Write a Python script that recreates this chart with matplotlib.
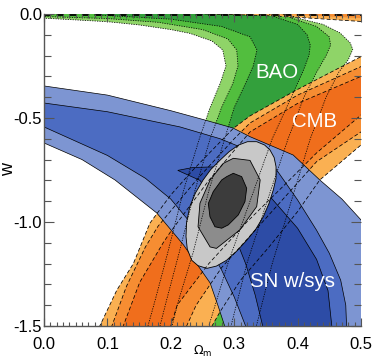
import matplotlib
matplotlib.use("Agg")
import matplotlib.pyplot as plt
from matplotlib.ticker import MultipleLocator, FormatStrFormatter

plt.rcParams['font.family'] = ['Liberation Sans', 'DejaVu Sans']
plt.rcParams['axes.unicode_minus'] = False

# === confidence regions in the (Omega_m, w) plane, as (Om, w) vertices ===
# levels go outer (99.7%) -> middle (95.4%) -> inner (68.3%)

# BAO
BAO_OUTER = [(-0.02, 0.03), (-0.02, -0.018), (0.0, -0.02), (0.10, -0.037), (0.151, -0.053),
             (0.20, -0.075), (0.23, -0.093), (0.265, -0.13), (0.282, -0.173), (0.287, -0.25),
             (0.278, -0.333), (0.262, -0.45), (0.245, -0.6), (0.22, -0.85), (0.195, -1.15),
             (0.175, -1.38), (0.164, -1.5), (0.158, -1.56),
             (0.325, -1.56), (0.335, -1.5), (0.36, -1.2), (0.39, -0.9), (0.42, -0.6),
             (0.445, -0.4), (0.465, -0.28), (0.48, -0.22), (0.487, -0.17), (0.483, -0.139),
             (0.467, -0.091), (0.44, -0.05), (0.40, -0.02), (0.36, 0.03)]
BAO_MID = [(-0.02, 0.03), (-0.02, -0.01), (0.0, -0.012), (0.10, -0.022), (0.18, -0.04),
           (0.25, -0.075), (0.29, -0.12), (0.304, -0.173), (0.306, -0.25), (0.298, -0.333),
           (0.28, -0.45), (0.262, -0.6), (0.238, -0.85), (0.213, -1.15), (0.193, -1.38),
           (0.183, -1.5), (0.178, -1.56),
           (0.292, -1.56), (0.295, -1.5), (0.32, -1.2), (0.352, -0.9), (0.385, -0.6),
           (0.41, -0.4), (0.43, -0.28), (0.445, -0.2), (0.452, -0.15), (0.45, -0.11),
           (0.43, -0.06), (0.40, -0.03), (0.35, 0.03)]
BAO_INNER = [(0.08, 0.03), (0.08, -0.004), (0.20, -0.025), (0.28, -0.06), (0.325, -0.11),
             (0.336, -0.173), (0.33, -0.25), (0.318, -0.333), (0.30, -0.45), (0.285, -0.6),
             (0.26, -0.85), (0.235, -1.15), (0.212, -1.38), (0.202, -1.5), (0.198, -1.56),
             (0.257, -1.56), (0.26, -1.5), (0.29, -1.2), (0.325, -0.9), (0.36, -0.6),
             (0.39, -0.4), (0.408, -0.28), (0.418, -0.2), (0.42, -0.15), (0.415, -0.1),
             (0.40, -0.05), (0.37, -0.02), (0.33, 0.03)]

# CMB band edges, upper-left side and lower-right side
CMB_L3 = [(0.079, -1.56), (0.088, -1.5), (0.115, -1.327), (0.141, -1.2), (0.167, -1.006),
          (0.20, -0.87), (0.235, -0.75), (0.2986, -0.55), (0.325, -0.49), (0.3986, -0.365),
          (0.5, -0.205), (0.56, -0.12)]
CMB_L2 = [(0.098, -1.56), (0.107, -1.5), (0.13, -1.31), (0.16, -1.12), (0.18, -1.02),
          (0.24, -0.80), (0.30, -0.60), (0.325, -0.524), (0.40, -0.39), (0.5, -0.253),
          (0.56, -0.18)]
CMB_L1 = [(0.116, -1.56), (0.125, -1.5), (0.151, -1.29), (0.188, -1.1), (0.199, -1.05),
          (0.26, -0.80), (0.325, -0.567), (0.40, -0.43), (0.5, -0.30), (0.56, -0.23)]
CMB_R1 = [(0.195, -1.56), (0.20, -1.5), (0.21, -1.4), (0.26, -1.2), (0.32, -1.0),
          (0.38, -0.82), (0.43, -0.668), (0.5, -0.486), (0.56, -0.36)]
CMB_R2 = [(0.222, -1.56), (0.225, -1.5), (0.24, -1.4), (0.28, -1.22), (0.33, -1.05),
          (0.38, -0.88), (0.43, -0.71), (0.5, -0.567), (0.56, -0.45)]
CMB_R3 = [(0.26, -1.56), (0.265, -1.5), (0.278, -1.43), (0.31, -1.28), (0.355, -1.12),
          (0.40, -0.95), (0.435, -0.798), (0.5, -0.63), (0.56, -0.52)]
# second CMB branch hugging w = 0
CMB_TOP_OUTER = [(0.25, 0.03), (0.56, 0.03), (0.56, -0.042), (0.5, -0.036), (0.45, -0.026),
                 (0.40, -0.016), (0.35, -0.008), (0.30, -0.003), (0.25, 0.0)]
CMB_TOP_MID = [(0.38, 0.03), (0.56, 0.03), (0.56, -0.025), (0.5, -0.02), (0.45, -0.012),
               (0.40, -0.004), (0.38, 0.0)]
TOP_EDGE = [(0.0, -0.004), (0.5, -0.004)]

# SN w/sys band edges (upper and lower)
SN_UP3 = [(-0.02, -0.338), (0.0, -0.346), (0.1, -0.39), (0.2, -0.465), (0.254, -0.51),
          (0.298, -0.548), (0.325, -0.59), (0.393, -0.678), (0.435, -0.798), (0.47, -0.89),
          (0.5, -0.99), (0.515, -1.1), (0.52, -1.3), (0.52, -1.56)]
SN_LO3 = [(-0.02, -0.6), (0.0, -0.62), (0.06, -0.70), (0.112, -0.798), (0.178, -0.957),
          (0.22, -1.11), (0.262, -1.293), (0.275, -1.407), (0.285, -1.5), (0.29, -1.56)]
SN_UP2 = [(-0.02, -0.42), (0.0, -0.428), (0.1, -0.47), (0.2145, -0.543), (0.278, -0.60),
          (0.33, -0.665), (0.367, -0.75), (0.40, -0.894), (0.43, -1.04), (0.45, -1.15),
          (0.468, -1.28), (0.476, -1.4), (0.478, -1.56)]
SN_LO2 = [(-0.02, -0.52), (0.0, -0.543), (0.1, -0.68), (0.16, -0.79), (0.20, -0.89),
          (0.23, -1.0), (0.26, -1.12), (0.28, -1.23), (0.30, -1.36), (0.318, -1.5),
          (0.32, -1.56)]
SN_UP1 = [(0.211, -0.752), (0.235, -0.738), (0.27, -0.735), (0.32, -0.77), (0.36, -0.89),
          (0.40, -1.03), (0.43, -1.18), (0.448, -1.33), (0.454, -1.5), (0.455, -1.56)]
SN_LO1 = [(0.211, -0.752), (0.246, -0.80), (0.28, -0.95), (0.305, -1.1), (0.318, -1.2),
          (0.333, -1.35), (0.345, -1.5), (0.347, -1.56)]

# combined BAO + CMB + SN
COMB_OUTER = [(0.3355, -0.614), (0.348, -0.630), (0.3565, -0.654), (0.363, -0.69), (0.366, -0.734),
              (0.366, -0.79), (0.3617, -0.846), (0.355, -0.91), (0.346, -0.974), (0.334, -1.035),
              (0.32, -1.087), (0.304, -1.14), (0.288, -1.184), (0.272, -1.212), (0.257, -1.223),
              (0.243, -1.21), (0.233, -1.184), (0.226, -1.13), (0.224, -1.07), (0.225, -1.0),
              (0.230, -0.926), (0.239, -0.86), (0.251, -0.798), (0.263, -0.748), (0.278, -0.702),
              (0.292, -0.662), (0.307, -0.63), (0.321, -0.614)]
COMB_MID = [(0.2986, -0.694), (0.325, -0.704), (0.341, -0.798), (0.3355, -0.926), (0.309, -1.038),
            (0.272, -1.127), (0.262, -1.12), (0.243, -1.023), (0.246, -0.91), (0.262, -0.798),
            (0.283, -0.718)]
COMB_INNER = [(0.2986, -0.766), (0.3118, -0.782), (0.3197, -0.838), (0.317, -0.902), (0.3065, -0.966),
              (0.2907, -1.014), (0.2803, -1.03), (0.2697, -1.023), (0.2618, -0.975), (0.2592, -0.911),
              (0.267, -0.854), (0.2803, -0.798), (0.2882, -0.782)]

GREEN = ['#8fd468', '#52be3e', '#33a03c']
ORANGE = ['#fab052', '#f68d32', '#f06e1c']
BLUE = ['#7d95d2', '#4c6cc2', '#2d4ca6']
GREY = ['#c8c8c8', '#8c8c8c', '#3c3c3c']

LABELS = [('BAO', 0.368, -0.309), ('CMB', 0.4267, -0.542), ('SN w/sys', 0.392, -1.314)]


def band(edge_a, edge_b):
    # closed polygon from two edges of a band
    return edge_a + edge_b[::-1]


def xy(pts):
    return [p[0] for p in pts], [p[1] for p in pts]


fig = plt.figure(figsize=(3.74, 3.61), dpi=100)
ax = fig.add_axes([0.1176, 0.0970, 0.8476, 0.8643])

bao = [BAO_OUTER, BAO_MID, BAO_INNER]
cmb = [band(CMB_L3, CMB_R3), band(CMB_L2, CMB_R2), band(CMB_L1, CMB_R1)]
sn = [band(SN_UP3, SN_LO3), band(SN_UP2, SN_LO2), band(SN_UP1, SN_LO1)]
comb = [COMB_OUTER, COMB_MID, COMB_INNER]

for poly, c in zip(bao, GREEN):
    ax.fill(*xy(poly), color=c, lw=0, zorder=1)
for poly, c in zip(cmb, ORANGE):
    ax.fill(*xy(poly), color=c, lw=0, zorder=2)
ax.fill(*xy(CMB_TOP_OUTER), color=ORANGE[0], lw=0, zorder=2)
ax.fill(*xy(CMB_TOP_MID), color=ORANGE[1], lw=0, zorder=2)
for poly, c in zip(sn, BLUE):
    ax.fill(*xy(poly), facecolor=c, edgecolor='k', lw=0.5, zorder=3)
for poly, c in zip(comb, GREY):
    ax.fill(*xy(poly), facecolor=c, edgecolor='k', lw=0.6, zorder=4)

# BAO and CMB outlines stay visible through everything
for poly in bao:
    ax.fill(*xy(poly), fill=False, edgecolor='k', lw=0.55, ls=(0, (1.6, 1.6)), zorder=5)
for edge in [CMB_L3, CMB_L2, CMB_L1, CMB_R1, CMB_R2, CMB_R3]:
    ax.plot(*xy(edge), color='k', lw=0.55, ls=(0, (5, 3)), zorder=5)
ax.plot(*xy(CMB_TOP_OUTER[3:]), color='k', lw=0.55, ls=(0, (5, 3)), zorder=5)
ax.plot(*xy(TOP_EDGE), color='k', lw=1.3, ls=(0, (4, 3)), zorder=5)

for txt, om, w in LABELS:
    ax.text(om, w, txt, color='white', fontsize=14.7, ha='center', va='baseline', zorder=7)

ax.set_xlim(0, 0.5)
ax.set_ylim(-1.5, 0.0)
ax.xaxis.set_major_locator(MultipleLocator(0.1))
ax.xaxis.set_minor_locator(MultipleLocator(0.01))
ax.yaxis.set_major_locator(MultipleLocator(0.5))
ax.yaxis.set_minor_locator(MultipleLocator(0.1))
ax.xaxis.set_major_formatter(FormatStrFormatter('%.1f'))
ax.yaxis.set_major_formatter(FormatStrFormatter('%.1f'))
ax.tick_params(which='both', direction='in', top=True, right=True, color='#555555',
               width=0.8, labelsize=12, labelcolor='k')
ax.tick_params(axis='x', which='major', length=6, pad=8)
ax.tick_params(axis='x', which='minor', length=3)
ax.tick_params(axis='y', which='major', length=7, pad=1.5)
ax.tick_params(axis='y', which='minor', length=5)
ax.xaxis.set_zorder(20)
ax.yaxis.set_zorder(20)

for side in ['top', 'right']:
    ax.spines[side].set_visible(False)
for side in ['left', 'bottom']:
    ax.spines[side].set_color('#555555')
    ax.spines[side].set_linewidth(1.0)
    ax.spines[side].set_zorder(20)

ax.set_xlabel(r'$\Omega_{\rm m}$', fontsize=9)
ax.xaxis.set_label_coords(0.5, -0.058)
ax.set_ylabel('w', fontsize=13)
ax.yaxis.set_label_coords(-0.085, 0.5)

fig.savefig('out.png', dpi=100)
